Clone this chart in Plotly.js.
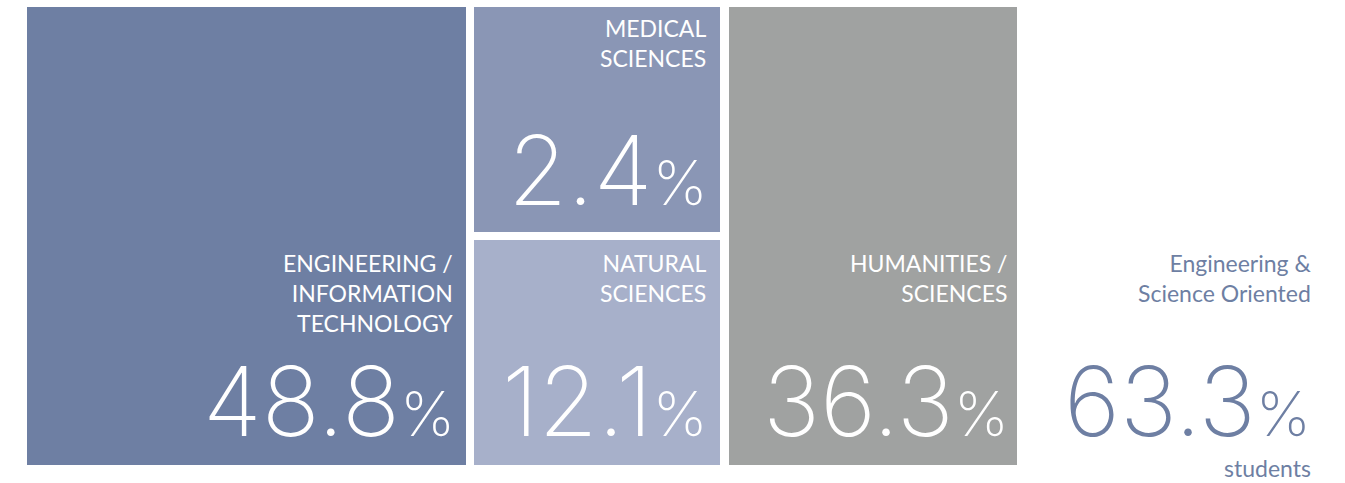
<!DOCTYPE html>
<html>
<head>
<meta charset="utf-8">
<script src="https://cdn.plot.ly/plotly-3.0.1.min.js"></script>
<style>html,body{margin:0;padding:0;background:#fff;}#chart{width:1345px;height:483px;}</style>
</head>
<body>
<div id="chart"></div>
<script>
// ---- data ----
const categories = ["Engineering / Information Technology", "Medical Sciences", "Natural Sciences", "Humanities / Sciences"];
const labels = ["ENGINEERING /<br>INFORMATION<br>TECHNOLOGY", "MEDICAL<br>SCIENCES", "NATURAL<br>SCIENCES", "HUMANITIES /<br>SCIENCES"];
const shares = [48.8, 2.4, 12.1, 36.3];
const summaryLabel = "Engineering &<br>Science Oriented";
const summaryShare = 63.3;
const summaryUnit = "students";

// ---- styles / layout ----
const colors = ["#6e7fa3", "#8a96b5", "#a7b0ca", "#a0a2a1"];
const accent = "#6e7fa3";
const W = 1345, H = 483, TOP = 7, BOTTOM = 465;
const gapFrac = 8 / (BOTTOM - TOP);
// column boxes in pixels (left, right)
const cols = [[27, 466], [474, 720], [474, 720], [729, 1017]];
const bases = [0, 0.5 + gapFrac / 2, 0, 0];
const heights = [1, 0.5 - gapFrac / 2, 0.5 - gapFrac / 2, 1];

const py = p => (BOTTOM - p) / (BOTTOM - TOP); // pixel y -> paper y

const trace = {
  type: "bar",
  x: cols.map(c => (c[0] + c[1]) / 2),
  width: cols.map(c => c[1] - c[0]),
  base: bases,
  y: heights,
  text: categories,
  marker: {color: colors, line: {width: 0}},
  hoverinfo: "skip",
  textposition: "none"
};

const labelFont = {family: "Lato, 'Open Sans', sans-serif", size: 23, color: "#ffffff"};
const numFont = {family: "Inter, Lato, sans-serif", size: 96, color: "#ffffff", weight: 200};
const pct = s => s.toFixed(1) + "<span style='font-size:62px'>%</span>";

// label top and number bottom (pixels) per category
const labelTop = [247, 12, 247, 247];
const numBottom = [461, 230, 461, 461];
const pad = [11, 12, 12, 8];

const annotations = [];
shares.forEach((s, i) => {
  const right = cols[i][1] - pad[i];
  annotations.push({x: right, y: py(labelTop[i]), xref: "x", yref: "paper", xanchor: "right", yanchor: "top",
    align: "right", text: labels[i], showarrow: false, font: labelFont});
  annotations.push({x: right + 2, y: py(numBottom[i]), xref: "x", yref: "paper", xanchor: "right", yanchor: "bottom",
    align: "right", text: pct(s), showarrow: false, font: numFont});
});
annotations.push({x: 1313, y: py(247), xref: "x", yref: "paper", xanchor: "right", yanchor: "top", align: "right",
  text: summaryLabel, showarrow: false, font: Object.assign({}, labelFont, {color: accent})});
annotations.push({x: 1313, y: py(461), xref: "x", yref: "paper", xanchor: "right", yanchor: "bottom", align: "right",
  text: pct(summaryShare), showarrow: false, font: Object.assign({}, numFont, {color: accent})});
annotations.push({x: 1313, y: py(484), xref: "x", yref: "paper", xanchor: "right", yanchor: "bottom", align: "right",
  text: summaryUnit, showarrow: false, font: Object.assign({}, labelFont, {color: accent})});

const layout = {
  width: W, height: H,
  margin: {l: 0, r: 0, t: TOP, b: H - BOTTOM, pad: 0},
  paper_bgcolor: "#ffffff", plot_bgcolor: "#ffffff",
  showlegend: false,
  xaxis: {range: [0, W], visible: false, fixedrange: true},
  yaxis: {range: [0, 1], visible: false, fixedrange: true},
  annotations: annotations,
  bargap: 0
};

Plotly.newPlot("chart", [trace], layout, {displayModeBar: false, staticPlot: true});
</script>
</body>
</html>
